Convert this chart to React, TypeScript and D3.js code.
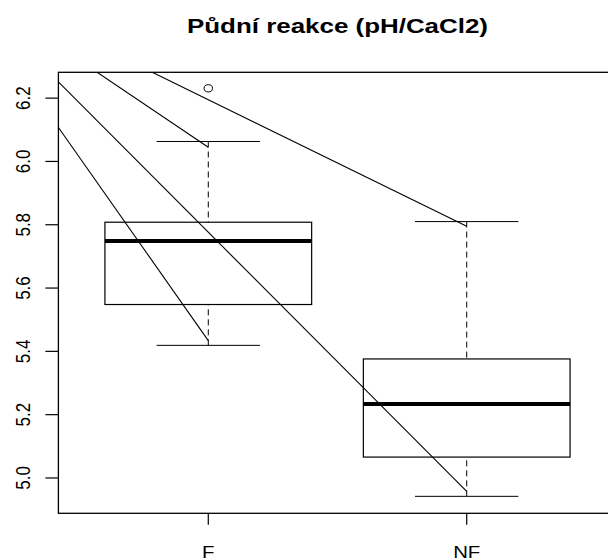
import React from "react";
import * as d3 from "d3";

const categories = ["F", "NF"];
const lowerWhisker = [5.419, 4.942];
const q1 = [5.548, 5.066];
const median = [5.749, 5.234];
const q3 = [5.808, 5.376];
const upperWhisker = [6.063, 5.81];
const outliers = [[6.231], []];
const yTicks = [5.0, 5.2, 5.4, 5.6, 5.8, 6.0, 6.2];
const title = "Půdní reakce (pH/CaCl2)";
// segments drawn from a common off-plot origin to points near the whisker ends
const segStart = { x: 0, y: 6.595 };
const segEndX = [1, 2, 2, 1];
const segEndY = [6.045, 5.795, 4.958, 5.434];

const W = 608;
const H = 558;
const FONT = "'Liberation Sans', Arial, Helvetica, sans-serif";

export default function App() {
  const dataMin = 4.94;
  const dataMax = 6.23;
  const ext = (dataMax - dataMin) * 0.04;
  const y = d3.scaleLinear().domain([dataMin - ext, dataMax + ext]).range([513.3, 72.3]);
  const x = d3.scaleLinear().domain([0.42, 2.58]).range([58.4, 616.6]);
  const left = x(0.42);
  const right = x(2.58);
  const top = y(dataMax + ext);
  const bottom = y(dataMin - ext);
  const boxW = 0.8;
  const stroke = "#000";
  const sx = 1.2;

  return (
    <svg
      width={W}
      height={H}
      style={{ position: "absolute", left: 0, top: 0, background: "#fff" }}
      xmlns="http://www.w3.org/2000/svg"
    >
      <defs>
        <clipPath id="plotclip">
          <rect x={left} y={top} width={right - left} height={bottom - top} />
        </clipPath>
      </defs>
      <rect x={0} y={0} width={W} height={H} fill="#fff" />
      {/* title */}
      <text
        x={(left + right) / 2}
        y={33.3}
        textAnchor="middle"
        fontFamily={FONT}
        fontWeight="bold"
        fontSize={21}
        textLength={301}
        lengthAdjust="spacingAndGlyphs"
      >
        {title}
      </text>

      {/* boxes */}
      {categories.map((c, i) => {
        const cx = x(i + 1);
        const hw = x(i + 1 + boxW / 2) - cx;
        const cw = hw / 2;
        return (
          <g key={c}>
            <line x1={cx} x2={cx} y1={y(upperWhisker[i])} y2={y(q3[i])} stroke={stroke} strokeWidth={1} strokeDasharray="6,4" />
            <line x1={cx} x2={cx} y1={y(lowerWhisker[i])} y2={y(q1[i])} stroke={stroke} strokeWidth={1} strokeDasharray="6,4" />
            <line x1={cx - cw} x2={cx + cw} y1={y(upperWhisker[i])} y2={y(upperWhisker[i])} stroke={stroke} strokeWidth={1} />
            <line x1={cx - cw} x2={cx + cw} y1={y(lowerWhisker[i])} y2={y(lowerWhisker[i])} stroke={stroke} strokeWidth={1} />
            <rect x={cx - hw} y={y(q3[i])} width={2 * hw} height={y(q1[i]) - y(q3[i])} fill="none" stroke={stroke} strokeWidth={1.2} />
            <line x1={cx - hw} x2={cx + hw} y1={y(median[i])} y2={y(median[i])} stroke={stroke} strokeWidth={4} />
            {outliers[i].map((o, j) => (
              <ellipse key={j} cx={cx} cy={y(o)} rx={4.2} ry={3.6} fill="none" stroke={stroke} strokeWidth={1} />
            ))}
          </g>
        );
      })}

      {/* segments */}
      <g clipPath="url(#plotclip)">
        {segEndX.map((ex, k) => (
          <line
            key={k}
            x1={x(segStart.x)}
            y1={y(segStart.y)}
            x2={x(ex)}
            y2={y(segEndY[k])}
            stroke={stroke}
            strokeWidth={1.1}
          />
        ))}
      </g>

      {/* frame */}
      <rect x={left} y={top} width={right - left} height={bottom - top} fill="none" stroke={stroke} strokeWidth={1.3} />

      {/* y axis */}
      {yTicks.map((t) => (
        <g key={t}>
          <line x1={left - 13} x2={left} y1={y(t)} y2={y(t)} stroke={stroke} strokeWidth={1.2} />
          <text
            transform={`translate(29.5, ${y(t)}) scale(${sx},1) rotate(-90)`}
            textAnchor="middle"
            fontFamily={FONT}
            fontSize={17}
          >
            {t.toFixed(1)}
          </text>
        </g>
      ))}

      {/* x axis */}
      {categories.map((c, i) => (
        <g key={c}>
          <line x1={x(i + 1)} x2={x(i + 1)} y1={bottom} y2={bottom + 11.5} stroke={stroke} strokeWidth={1.2} />
          <text
            transform={`translate(${x(i + 1)}, 557.5) scale(${sx},1)`}
            textAnchor="middle"
            fontFamily={FONT}
            fontSize={17}
          >
            {c}
          </text>
        </g>
      ))}
    </svg>
  );
}
